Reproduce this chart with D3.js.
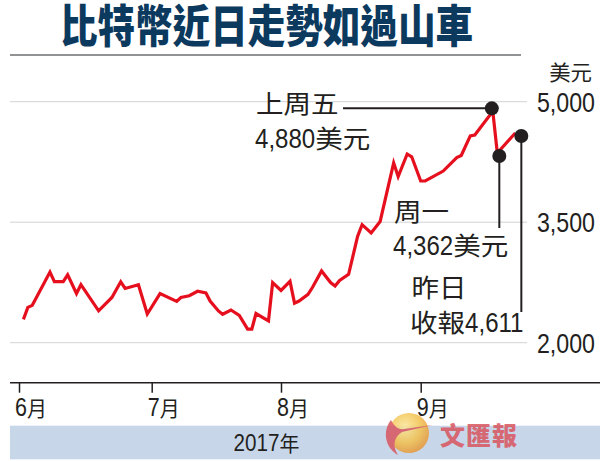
<!DOCTYPE html>
<html><head><meta charset="utf-8">
<script src="https://cdn.jsdelivr.net/npm/d3@7"></script>
<style>
html,body{margin:0;padding:0;background:#fff;}
svg{display:block;}
</style></head>
<body>
<script>
// ---------- data ----------
const titleText = "比特幣近日走勢如過山車";
const unitLabel = "美元";
const yearLabel = "2017年";
const dates = ["2017-06-02","2017-06-03","2017-06-04","2017-06-08","2017-06-09","2017-06-11","2017-06-12","2017-06-14","2017-06-15","2017-06-19","2017-06-22","2017-06-24","2017-06-25","2017-06-28","2017-06-30",
"2017-07-03","2017-07-07","2017-07-08","2017-07-10","2017-07-12","2017-07-14","2017-07-15","2017-07-17","2017-07-18","2017-07-20","2017-07-22","2017-07-24","2017-07-25","2017-07-26","2017-07-29","2017-07-30",
"2017-08-01","2017-08-03","2017-08-04","2017-08-05","2017-08-07","2017-08-08","2017-08-10","2017-08-12","2017-08-13","2017-08-14","2017-08-16","2017-08-18","2017-08-19","2017-08-21","2017-08-23","2017-08-26","2017-08-27","2017-08-29","2017-08-30",
"2017-09-01","2017-09-02","2017-09-06","2017-09-09","2017-09-10","2017-09-12","2017-09-13","2017-09-17","2017-09-18","2017-09-22"];
const prices = [2290,2440,2465,2880,2760,2760,2845,2612,2722,2397,2563,2758,2675,2722,2357,
2612,2515,2563,2585,2640,2619,2519,2395,2354,2407,2339,2168,2168,2363,2273,2747,
2650,2764,2492,2519,2602,2690,2893,2749,2706,2774,2851,3324,3469,3366,3509,4239,4069,4349,4314,
4013,4013,4137,4305,4330,4575,4585,4880,4362,4611];
const monthTicks = ["2017-06-01","2017-07-01","2017-08-01","2017-09-01"];
const monthLabels = ["6月","7月","8月","9月"];
const yTicks = [2000,3500,5000];
const yTickLabels = ["2,000","3,500","5,000"];
const annotIndex = [57,58,59];
const annotLabels = [["上周五","4,880美元"],["周一","4,362美元"],["昨日","收報4,611"]];

// ---------- setup ----------
const W=600,H=461;
const parse = d3.timeParse("%Y-%m-%d");
const data = dates.map((d,i)=>({date:parse(d),value:prices[i]}));
const svg = d3.select("body").append("svg").attr("width",W).attr("height",H);

const NUMF = '"Liberation Sans", Arial, sans-serif';
const CJKF = '"Noto Sans CJK TC","Noto Sans CJK SC",sans-serif';
const INK = "#231f20";

const x = d3.scaleTime().domain(monthTicks.map(parse)).range([19,151.7,281,420.7]);
const y = d3.scaleLinear().domain([2000,5000]).range([342.7,101.7]);

// rich text: runs of CJK / non-CJK with separate fonts
function rich(parent, px, py, str, o){
  const opt = Object.assign({numSize:28,numSx:0.86,cjkSize:25.5,cjkSx:1.08,fill:INK,anchor:"start",weight:400},o||{});
  const g = parent.append("g");
  const re = /([\u3000-\u9fff\uff00-\uffef]+|[^\u3000-\u9fff\uff00-\uffef]+)/g;
  const parts = str.match(re);
  let cx = 0;
  parts.forEach(p=>{
    const cjk = /[\u3000-\u9fff\uff00-\uffef]/.test(p);
    const sx = cjk?opt.cjkSx:opt.numSx;
    const t = g.append("text")
      .attr("font-family", cjk?CJKF:NUMF)
      .attr("font-size", cjk?opt.cjkSize:opt.numSize)
      .attr("font-weight", opt.weight)
      .attr("fill", opt.fill)
      .attr("transform", `translate(${cx},0) scale(${sx},1)`)
      .text(p);
    cx += t.node().getComputedTextLength()*sx;
  });
  let ox = px;
  if(opt.anchor==="end") ox = px - cx;
  if(opt.anchor==="middle") ox = px - cx/2;
  g.attr("transform",`translate(${ox},${py})`);
  return g;
}

// ---------- title ----------
{
  const t = svg.append("text")
    .attr("font-family", CJKF).attr("font-size",45).attr("font-weight",900)
    .attr("fill","#0c3a5e").text(titleText);
  const w = t.node().getComputedTextLength();
  const sx = 413/w;
  t.attr("transform",`translate(${266.5 - 413/2},42.5) scale(${sx},1)`);
}
svg.append("line").attr("x1",10).attr("x2",521).attr("y1",55).attr("y2",55)
  .attr("stroke","#6d6e71").attr("stroke-width",1.5);

// ---------- grid & y labels ----------
svg.append("g").selectAll("line").data(yTicks).join("line")
  .attr("x1",10).attr("x2",527).attr("y1",d=>y(d)).attr("y2",d=>y(d))
  .attr("stroke","#d1d3d4").attr("stroke-width",1);
yTicks.forEach((v,i)=>rich(svg,595,y(v)+10,yTickLabels[i],{numSize:27,numSx:0.86,anchor:"end"}));
rich(svg,592,80,unitLabel,{cjkSize:21,cjkSx:1.02,anchor:"end"});

// ---------- x axis ----------
svg.append("line").attr("x1",10).attr("x2",600).attr("y1",382.7).attr("y2",382.7)
  .attr("stroke",INK).attr("stroke-width",1.5);
const xAxis = d3.axisBottom(x).tickValues(monthTicks.map(parse)).tickSize(10).tickFormat("");
const ax = svg.append("g").attr("transform","translate(0,382.7)").call(xAxis);
ax.select(".domain").remove();
ax.selectAll(".tick line").attr("stroke",INK).attr("stroke-width",1.5);
monthTicks.forEach((m,i)=>rich(svg,x(parse(m))-4,416,monthLabels[i],{numSize:25,numSx:0.86,cjkSize:21,cjkSx:0.95}));

// ---------- year band ----------
svg.append("rect").attr("x",10).attr("y",425.7).attr("width",590).attr("height",33.6).attr("fill","#c8d6ea");
rich(svg,266.5,451,yearLabel,{numSize:24,numSx:0.86,cjkSize:21,cjkSx:0.95,anchor:"middle"});

// ---------- logo (watermark) ----------
{
  const defs = svg.append("defs");
  const rg = defs.append("radialGradient").attr("id","sph").attr("cx","40%").attr("cy","35%").attr("r","65%");
  rg.append("stop").attr("offset","0%").attr("stop-color","#fbe89a");
  rg.append("stop").attr("offset","60%").attr("stop-color","#f3c24e");
  rg.append("stop").attr("offset","100%").attr("stop-color","#e79a3a");
  const lg = svg.append("g").attr("opacity",0.85);
  lg.append("circle").attr("cx",409).attr("cy",433).attr("r",20).attr("fill","url(#sph)");
  lg.append("path").attr("d","M391,420 C382,431 385,448 398,455 C392,446 394,437 402,432 L433,425 L404,429 C398,430 394,426 391,420 Z")
    .attr("fill","#d9555f");
  lg.append("text").attr("x",440).attr("y",445).attr("font-family",CJKF).attr("font-size",25).attr("font-weight",900)
    .attr("fill","#d9555f").attr("letter-spacing",1).text("文匯報");
}

// ---------- line ----------
const line = d3.line().x(d=>x(d.date)).y(d=>y(d.value));
svg.append("path").datum(data).attr("d",line).attr("fill","none")
  .attr("stroke","#e60f1e").attr("stroke-width",3.2).attr("stroke-linejoin","miter");

// ---------- annotations ----------
const dotOff = [[-1,-3],[2,3],[6,3]];
annotIndex.forEach((idx,k)=>{
  const d = data[idx];
  const cx = x(d.date)+dotOff[k][0], cy = y(d.value)+dotOff[k][1];
  if(k===0){
    svg.append("line").attr("x1",343).attr("x2",cx).attr("y1",cy).attr("y2",cy).attr("stroke",INK).attr("stroke-width",2);
  } else {
    svg.append("line").attr("x1",cx).attr("x2",cx).attr("y1",cy).attr("y2",k===1?228:312).attr("stroke",INK).attr("stroke-width",2);
  }
  svg.append("circle").attr("cx",cx).attr("cy",cy).attr("r",7).attr("fill",INK);
});
rich(svg,256,113,annotLabels[0][0]);
rich(svg,255,148,annotLabels[0][1]);
rich(svg,394,221,annotLabels[1][0]);
rich(svg,393,255,annotLabels[1][1]);
rich(svg,411.5,297,annotLabels[2][0]);
rich(svg,410,331.7,annotLabels[2][1]);
</script>
</body></html>
